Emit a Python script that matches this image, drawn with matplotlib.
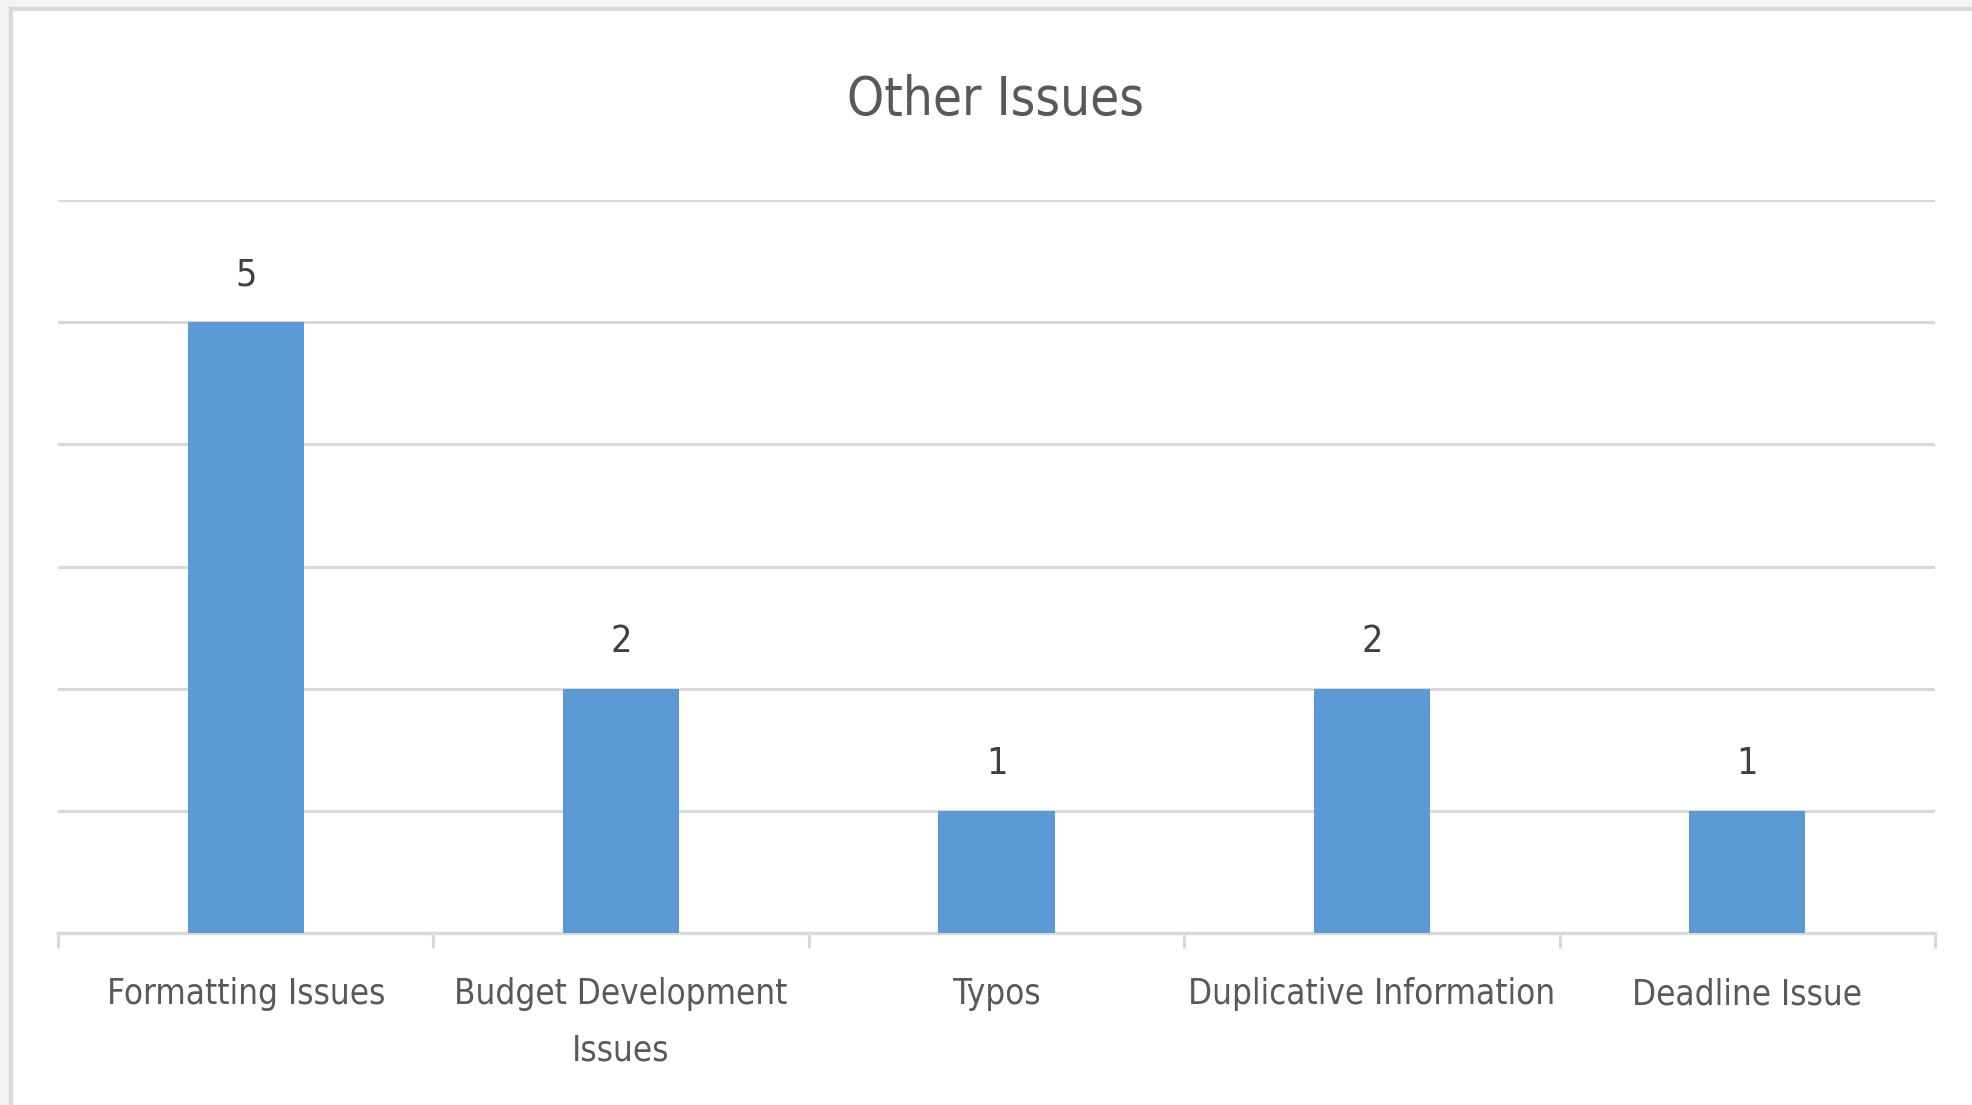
import matplotlib.pyplot as plt
from matplotlib.patches import Rectangle
import numpy as np

# issue counts
categories = ['Formatting Issues', 'Budget Development\nIssues', 'Typos',
              'Duplicative Information', 'Deadline Issue']
counts = [5, 2, 1, 2, 1]

plt.rcParams['font.family'] = ['DejaVu Sans']
plt.rcParams['font.stretch'] = 'condensed'

fig = plt.figure(figsize=(19.72, 11.05), dpi=100, facecolor='#f2f2f2')

# white chart area with light border on top/left
fig.patches.append(Rectangle((11 / 1972, -0.05), 1.1, 1.05 - 8.5 / 1105,
                             transform=fig.transFigure, facecolor='white',
                             edgecolor='#d9d9d9', linewidth=3, zorder=-5))

ax = fig.add_axes([58 / 1972, 1 - 933 / 1105, (1935 - 58) / 1972, (933 - 200) / 1105])
ax.set_facecolor('none')
ax.set_zorder(2)

x = np.arange(len(categories))
ax.bar(x, counts, width=0.31, color='#5b9bd5', zorder=3)

for xi, c in zip(x, counts):
    ax.annotate(str(c), (xi, c), xytext=(0, 21), textcoords='offset points',
                ha='center', va='bottom', fontsize=27, color='#404040')

ax.set_xlim(-0.5, len(categories) - 0.5)
ax.set_ylim(0, 6)
ax.set_yticks(range(1, 7))
ax.yaxis.grid(True, color='#d9d9d9', linewidth=2.2)
ax.tick_params(axis='y', left=False, labelleft=False)

ax.set_xticks(x)
ax.set_xticklabels(categories, fontsize=25, color='#595959', linespacing=1.82)
ax.tick_params(axis='x', which='major', length=0, pad=32)
ax.set_xticks(np.arange(-0.5, len(categories)), minor=True)
ax.tick_params(axis='x', which='minor', length=11, width=2.2, color='#d9d9d9')

for side in ['top', 'right', 'left']:
    ax.spines[side].set_visible(False)
ax.spines['bottom'].set_color('#d9d9d9')
ax.spines['bottom'].set_linewidth(2.4)

fig.text(996 / 1972, 1 - 100 / 1105, 'Other Issues', fontsize=38, color='#595959',
         ha='center', va='center')

fig.savefig('out.png', dpi=100, facecolor=fig.get_facecolor())
